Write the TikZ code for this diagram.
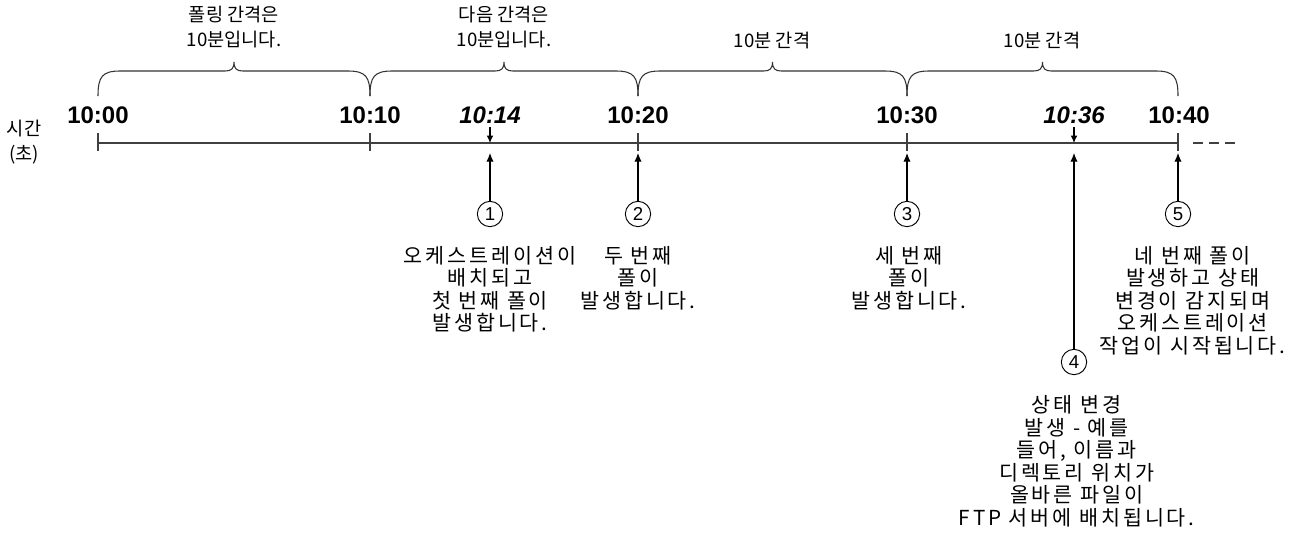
\documentclass[tikz,border=0pt]{standalone}
\usepackage{fontspec}
\setmainfont{Liberation Sans}
\newfontfamily\kofont{Noto Sans CJK KR}
\newfontfamily\kolabelfont[LetterSpace=14]{Noto Sans CJK KR}
\usetikzlibrary{arrows.meta,positioning}

\begin{document}
\begin{tikzpicture}[
  x=0.75pt, y=-0.75pt,
  hdr/.style={
    font=\kofont\fontsize{14}{18.75}\selectfont,
    align=center, inner sep=0pt
  },
  tm/.style={font=\fontsize{18}{20}\selectfont\bfseries, inner sep=0pt},
  tmi/.style={font=\fontsize{18}{20}\selectfont\bfseries\itshape, inner sep=0pt},
  note/.style={
    font=\kolabelfont\fontsize{15.5}{16.9}\selectfont,
    align=center, inner sep=0pt
  },
  num/.style={
    circle, draw, line width=0.7pt, minimum size=19pt,
    inner sep=0pt, font=\fontsize{14}{14}\selectfont
  },
  axis/.style={line width=0.9pt, black!75},
  brc/.style={line width=0.8pt, black!80},
  uparr/.style={-{Latex[length=6.5pt,width=5.5pt]}, line width=0.8pt},
  dnarr/.style={-{Latex[length=5.5pt,width=5pt]}, line width=0.8pt}
]
\useasboundingbox (0,0) rectangle (1303,533);

%% -- points on the time axis ------------------------------------
\coordinate (t00) at (98,143);
\coordinate (t10) at (370,143);
\coordinate (t14) at (490,143);
\coordinate (t20) at (638,143);
\coordinate (t30) at (907,143);
\coordinate (t36) at (1074,143);
\coordinate (t40) at (1178,143);
\coordinate (more) at (1237,143);

%% -- braces and interval texts -----------------------------------
\foreach \a/\b in {98/370, 370/638, 638/907, 907/1178} {
  \pgfmathsetmacro\m{(\a+\b)/2}
  \draw[brc] (\a,96) .. controls (\a,77) and (\a+4,71) .. (\a+22,71)
    -- (\m-9,71) .. controls (\m-3,71) and (\m,69) .. (\m,62)
    .. controls (\m,69) and (\m+3,71) .. (\m+9,71)
    -- (\b-22,71) .. controls (\b-4,71) and (\b,77) .. (\b,96);
}
\node[hdr] (h1) at (234,27.5) {폴링 간격은\\10분입니다.};
\node[hdr] (h2) at (504,27.5) {다음 간격은\\10분입니다.};
\node[hdr] (h3) at (772,40) {10분 간격};
\node[hdr] (h4) at (1042,40) {10분 간격};

%% -- time labels -------------------------------------------------
\node[tm]  (m00) at (98,115)   {10:00};
\node[tm]  (m10) at (370,115)  {10:10};
\node[tmi] (m14) at (490,115)  {10:14};
\node[tm]  (m20) at (638,115)  {10:20};
\node[tm]  (m30) at (907,115)  {10:30};
\node[tmi] (m36) at (1074,115) {10:36};
\node[tm]  (m40) at (1179,115) {10:40};

\node[hdr] (unit) at (24,142.5) {시간\\(초)};

%% -- axis --------------------------------------------------------
\draw[axis] (t00) -- (t40);
\foreach \t in {t00,t10,t20,t30,t40}
  \draw[axis] ([yshift=7.5pt]\t) -- ([yshift=-6pt]\t);
\draw[axis, dash pattern=on 7.5pt off 4.5pt] ([xshift=11.5pt]t40) -- (more);

\draw[dnarr] ([yshift=12pt]t14) -- (t14);
\draw[dnarr] ([yshift=12pt]t36) -- (t36);

%% -- numbered events ---------------------------------------------
\node[num] (c1) at (490,214)  {1};
\node[num] (c2) at (638,214)  {2};
\node[num] (c3) at (907,214)  {3};
\node[num] (c4) at (1074,362) {4};
\node[num] (c5) at (1178,214) {5};

\draw[uparr] (c1) -- ([yshift=-7.5pt]t14);
\draw[uparr] (c2) -- ([yshift=-7.5pt]t20);
\draw[uparr] (c3) -- ([yshift=-7.5pt]t30);
\draw[uparr] (c4) -- ([yshift=-7.5pt]t36);
\draw[uparr] (c5) -- ([yshift=-7.5pt]t40);

\node[note, below=14pt of c1] (n1)
  {오케스트레이션이\\배치되고\\첫 번째 폴이\\발생합니다.};
\node[note, below=14pt of c2] (n2) {두 번째\\폴이\\발생합니다.};
\node[note, below=14pt of c3, xshift=1.5pt] (n3) {세 번째\\폴이\\발생합니다.};
\node[note, below=15pt of c4, xshift=2pt] (n4)
  {상태 변경\\발생 - 예를\\들어, 이름과\\디렉토리 위치가\\올바른 파일이\\FTP 서버에 배치됩니다.};
\node[note, below=14pt of c5, xshift=11pt] (n5)
  {네 번째 폴이\\발생하고 상태\\변경이 감지되며\\오케스트레이션\\작업이 시작됩니다.};

\end{tikzpicture}
\end{document}
